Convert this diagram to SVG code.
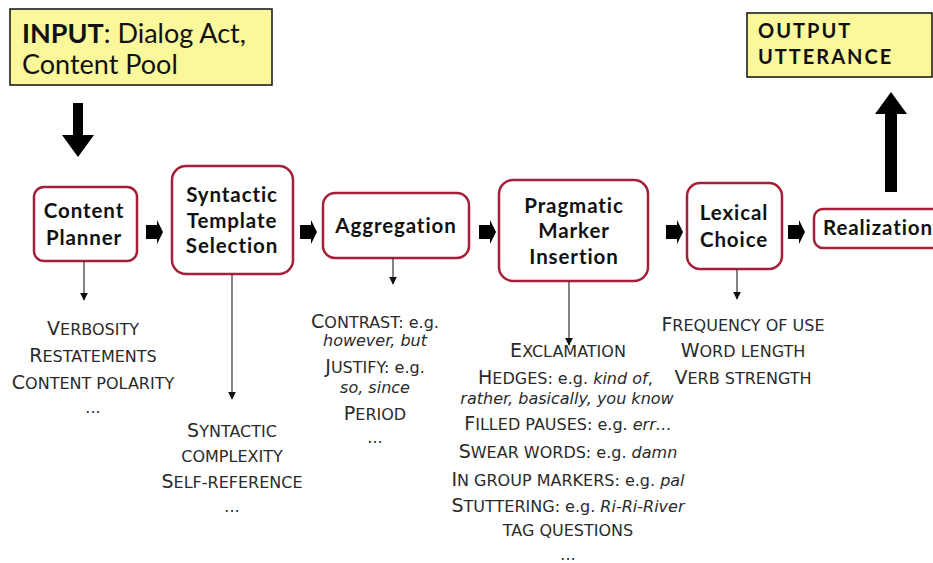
<svg xmlns="http://www.w3.org/2000/svg" width="933" height="563" viewBox="0 0 933 563">
<defs>
<style>
.yb{fill:#fbf89c;stroke:#111;stroke-width:1.5}
.nb{fill:#fff;stroke:#a61f38;stroke-width:2.5}
.tt{font-family:Lato,"Liberation Sans",sans-serif;font-weight:700;font-size:20.5px;letter-spacing:0.9px;fill:#111;text-anchor:middle}
.io{font-family:Lato,"Liberation Sans",sans-serif;fill:#111}
.li{font-family:"DejaVu Sans",Verdana,sans-serif;font-size:16px;fill:#2a2a2a;text-anchor:middle}
.c{font-size:19px}
.it{font-style:italic}
.ln{stroke:#333;stroke-width:1.2;fill:none}
.blk{fill:#000}
</style>
<marker id="ah" viewBox="0 0 10 10" refX="9" refY="5" markerWidth="8" markerHeight="8" markerUnits="userSpaceOnUse" orient="auto">
<path d="M0,0 L10,5 L0,10 Z" fill="#111"/>
</marker>
</defs>

<g id="input">
<rect class="yb" x="10" y="9" width="262" height="76"/>
<text class="io" x="22" y="43" font-size="27"><tspan font-weight="700">INPUT</tspan>: Dialog Act,</text>
<text class="io" x="22" y="74" font-size="27">Content Pool</text>
</g>

<g id="output">
<rect class="yb" x="747" y="13" width="185" height="64"/>
<text class="io" x="758" y="38" font-size="20" font-weight="700" letter-spacing="2">OUTPUT</text>
<text class="io" x="758" y="64" font-size="20" font-weight="700" letter-spacing="2">UTTERANCE</text>
</g>

<g id="content-planner">
<rect class="nb" x="34" y="187" width="103" height="74" rx="10"/>
<text class="tt" x="84" y="218">Content</text>
<text class="tt" x="84" y="245">Planner</text>
</g>

<g id="syntactic-template-selection">
<rect class="nb" x="172" y="166" width="121" height="108" rx="14"/>
<text class="tt" x="232" y="202">Syntactic</text>
<text class="tt" x="232" y="228">Template</text>
<text class="tt" x="232" y="253">Selection</text>
</g>

<g id="aggregation">
<rect class="nb" x="323" y="193" width="146" height="65" rx="12"/>
<text class="tt" x="396" y="233">Aggregation</text>
</g>

<g id="pragmatic-marker-insertion">
<rect class="nb" x="499" y="180" width="149" height="101" rx="14"/>
<text class="tt" x="574" y="213">Pragmatic</text>
<text class="tt" x="574" y="238">Marker</text>
<text class="tt" x="574" y="264">Insertion</text>
</g>

<g id="lexical-choice">
<rect class="nb" x="687" y="183" width="95" height="86" rx="13"/>
<text class="tt" x="734" y="220">Lexical</text>
<text class="tt" x="734" y="247">Choice</text>
</g>

<g id="realization">
<rect class="nb" x="814" y="209" width="130" height="39" rx="9"/>
<text class="tt" x="823" y="235" style="text-anchor:start">Realization</text>
</g>

<g id="connectors">
<polygon class="blk" points="73,103 83,103 83,135 94,135 78,157 62,135 73,135"/>
<polygon class="blk" points="885,192 897,192 897,114 907,114 891,92 875,114 885,114"/>
<polygon class="blk" points="146,225 157,225 157,220 163,232 157,244 157,239 146,239"/>
<polygon class="blk" points="300,225 311,225 311,220 317,232 311,244 311,239 300,239"/>
<polygon class="blk" points="479,225 490,225 490,220 496,232 490,244 490,239 479,239"/>
<polygon class="blk" points="666,225 677,225 677,220 683,232 677,244 677,239 666,239"/>
<polygon class="blk" points="788,225 799,225 799,220 805,232 799,244 799,239 788,239"/>
<line class="ln" x1="84" y1="261" x2="84" y2="300" marker-end="url(#ah)"/>
<line class="ln" x1="232" y1="274" x2="232" y2="399" marker-end="url(#ah)"/>
<line class="ln" x1="393" y1="258" x2="393" y2="284" marker-end="url(#ah)"/>
<line class="ln" x1="569" y1="281" x2="569" y2="345" marker-end="url(#ah)"/>
<line class="ln" x1="737" y1="269" x2="737" y2="299" marker-end="url(#ah)"/>
</g>

<g id="content-planner-list">
<text class="li" x="93" y="335"><tspan class="c">V</tspan>ERBOSITY</text>
<text class="li" x="93" y="362"><tspan class="c">R</tspan>ESTATEMENTS</text>
<text class="li" x="93" y="389"><tspan class="c">C</tspan>ONTENT POLARITY</text>
<text class="li" x="93" y="413" font-size="12">...</text>
</g>

<g id="syntactic-list">
<text class="li" x="232" y="437"><tspan class="c">S</tspan>YNTACTIC</text>
<text class="li" x="232" y="462">COMPLEXITY</text>
<text class="li" x="232" y="488"><tspan class="c">S</tspan>ELF-REFERENCE</text>
<text class="li" x="232" y="512" font-size="12">...</text>
</g>

<g id="aggregation-list">
<text class="li" x="375" y="328"><tspan class="c">C</tspan>ONTRAST: e.g.</text>
<text class="li it" x="375" y="346" font-size="15">however, but</text>
<text class="li" x="375" y="373"><tspan class="c">J</tspan>USTIFY: e.g.</text>
<text class="li it" x="375" y="393" font-size="15">so, since</text>
<text class="li" x="375" y="420"><tspan class="c">P</tspan>ERIOD</text>
<text class="li" x="375" y="443" font-size="12">...</text>
</g>

<g id="pragmatic-list">
<text class="li" x="568" y="357"><tspan class="c">E</tspan>XCLAMATION</text>
<text class="li" x="478" y="384" style="text-anchor:start"><tspan class="c">H</tspan>EDGES: e.g. <tspan class="it">kind of</tspan>,</text>
<text class="li it" x="567" y="404" font-size="15.5">rather, basically, you know</text>
<text class="li" x="568" y="430"><tspan class="c">F</tspan>ILLED PAUSES: e.g. <tspan class="it">err…</tspan></text>
<text class="li" x="568" y="458"><tspan class="c">S</tspan>WEAR WORDS: e.g. <tspan class="it">damn</tspan></text>
<text class="li" x="568" y="486"><tspan class="c">I</tspan>N GROUP MARKERS: e.g. <tspan class="it">pal</tspan></text>
<text class="li" x="568" y="512"><tspan class="c">S</tspan>TUTTERING: e.g. <tspan class="it">Ri-Ri-River</tspan></text>
<text class="li" x="568" y="536">TAG QUESTIONS</text>
<text class="li" x="568" y="560" font-size="12">...</text>
</g>

<g id="lexical-list">
<text class="li" x="743" y="331"><tspan class="c">F</tspan>REQUENCY OF USE</text>
<text class="li" x="743" y="357"><tspan class="c">W</tspan>ORD LENGTH</text>
<text class="li" x="743" y="384"><tspan class="c">V</tspan>ERB STRENGTH</text>
</g>
</svg>
